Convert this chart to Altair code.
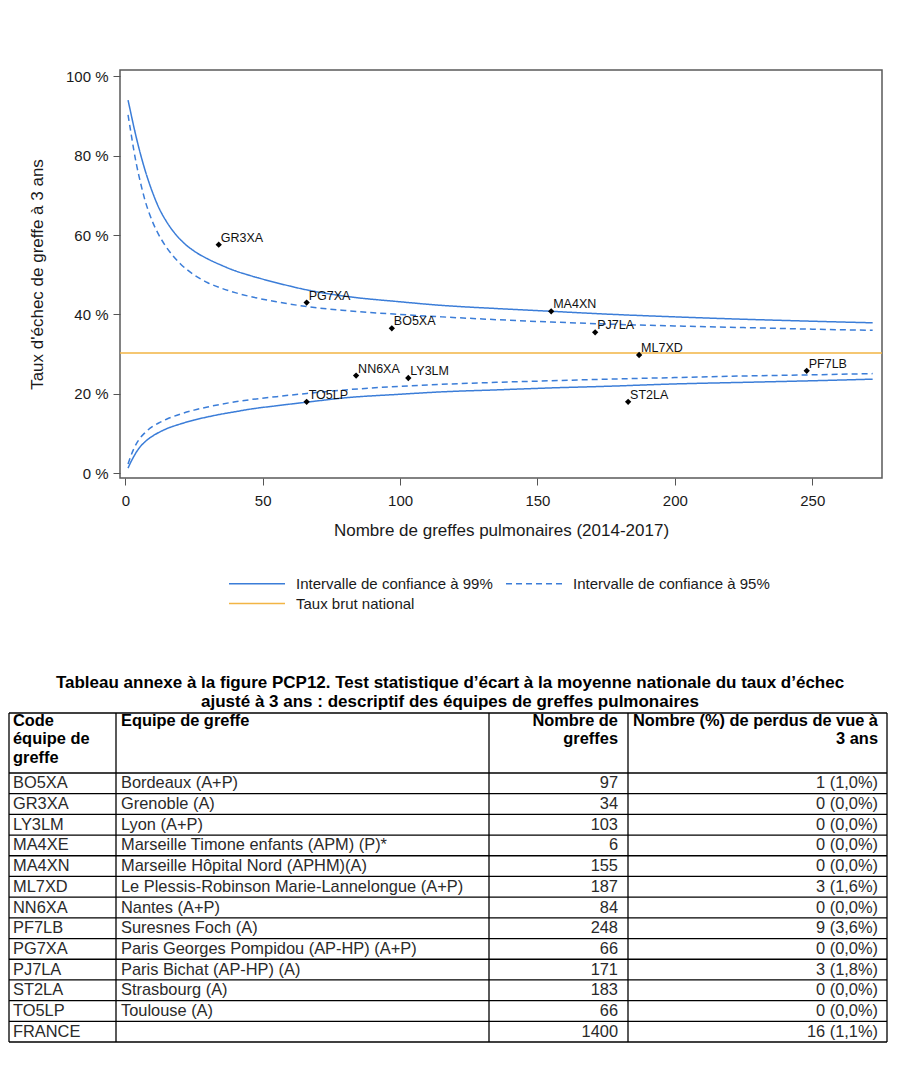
import altair as alt
import pandas as pd

# ---------------- data ----------------
codes = ["BO5XA", "GR3XA", "LY3LM", "MA4XN", "ML7XD", "NN6XA",
         "PF7LB", "PG7XA", "PJ7LA", "ST2LA", "TO5LP"]
n_greffes = [97, 34, 103, 155, 187, 84, 248, 66, 171, 183, 66]
taux = [36.5, 57.6, 24.0, 40.8, 29.8, 24.6, 25.8, 43.0, 35.5, 18.0, 18.0]

national_rate = 30.3

curve_n = [1, 2, 3, 4, 5, 7, 10, 12, 15, 20, 25, 30, 35, 40, 45, 55, 66,
           80, 100, 115, 135, 155, 175, 200, 225, 250, 272]
ic99_haut = [94.0, 90.8, 87.6, 84.6, 81.8, 76.8, 70.6, 67.2, 63.4, 58.9, 56.0,
             54.0, 52.4, 51.0, 49.9, 48.0, 46.2, 44.6, 43.2, 42.3, 41.5, 40.8,
             40.1, 39.4, 38.8, 38.3, 37.9]
ic95_haut = [90.3, 86.0, 81.8, 78.0, 74.8, 69.2, 63.2, 60.3, 56.9, 52.8, 50.0,
             48.0, 46.6, 45.5, 44.6, 43.2, 42.0, 41.0, 40.0, 39.4, 38.7, 38.1,
             37.6, 37.1, 36.7, 36.3, 36.0]
ic99_bas = [1.3, 2.8, 4.1, 5.3, 6.3, 7.8, 9.4, 10.2, 11.2, 12.4, 13.4, 14.2,
            14.9, 15.5, 16.1, 17.0, 17.9, 19.0, 19.9, 20.5, 21.0, 21.5, 21.9,
            22.5, 22.9, 23.3, 23.7]
ic95_bas = [2.3, 4.3, 6.0, 7.4, 8.5, 10.1, 11.8, 12.6, 13.6, 14.9, 15.9, 16.7,
            17.4, 18.0, 18.5, 19.3, 20.1, 21.0, 21.9, 22.4, 22.9, 23.3, 23.7,
            24.1, 24.5, 24.8, 25.1]

LAB99 = "Intervalle de confiance à 99%"
LAB95 = "Intervalle de confiance à 95%"
LABN = "Taux brut national"
series = [LAB99, LAB95, LABN]

x_ticks = [0, 50, 100, 150, 200, 250]
y_ticks = [0, 20, 40, 60, 80, 100]

tab_codes = ["BO5XA", "GR3XA", "LY3LM", "MA4XE", "MA4XN", "ML7XD", "NN6XA",
             "PF7LB", "PG7XA", "PJ7LA", "ST2LA", "TO5LP", "FRANCE"]
tab_equipes = ["Bordeaux (A+P)", "Grenoble (A)", "Lyon (A+P)",
               "Marseille Timone enfants (APM) (P)*",
               "Marseille Hôpital Nord (APHM)(A)",
               "Le Plessis-Robinson Marie-Lannelongue (A+P)",
               "Nantes (A+P)", "Suresnes Foch (A)",
               "Paris Georges Pompidou (AP-HP) (A+P)",
               "Paris Bichat (AP-HP) (A)", "Strasbourg (A)", "Toulouse (A)", ""]
tab_nombre = [97, 34, 103, 6, 155, 187, 84, 248, 66, 171, 183, 66, 1400]
tab_perdus = ["1 (1,0%)", "0 (0,0%)", "0 (0,0%)", "0 (0,0%)", "0 (0,0%)",
              "3 (1,6%)", "0 (0,0%)", "9 (3,6%)", "0 (0,0%)", "3 (1,8%)",
              "0 (0,0%)", "0 (0,0%)", "16 (1,1%)"]
tab_header = ["Code\néquipe de\ngreffe", "Equipe de greffe",
              "Nombre de\ngreffes", "Nombre (%) de perdus de vue à\n3 ans"]
tab_title = ["Tableau annexe à la figure PCP12. Test statistique d’écart à la moyenne nationale du taux d’échec",
             "ajusté à 3 ans : descriptif des équipes de greffes pulmonaires"]

FONT = "Liberation Sans"
BLUE = "#3b7dd8"
ORANGE = "#f2b544"

# ---------------- funnel plot ----------------
rows = []
for lab, cid, vals in [(LAB99, "99h", ic99_haut), (LAB99, "99b", ic99_bas),
                       (LAB95, "95h", ic95_haut), (LAB95, "95b", ic95_bas)]:
    for n, v in zip(curve_n, vals):
        rows.append({"n": n, "v": v, "serie": lab, "courbe": cid})
curves = pd.DataFrame(rows)
nat = pd.DataFrame({"v": [national_rate], "serie": [LABN]})
pts = pd.DataFrame({"code": codes, "n": n_greffes, "v": taux})

xs = alt.Scale(domain=[-1.93, 275.4], nice=False, zero=False)
ys = alt.Scale(domain=[-1.2, 101.6], nice=False, zero=False)
xax = alt.Axis(title="Nombre de greffes pulmonaires (2014-2017)", values=x_ticks,
               tickSize=7, labelPadding=8, titlePadding=14, grid=False, domain=False)
yax = alt.Axis(title="Taux d'échec de greffe à 3 ans", values=y_ticks,
               labelExpr="datum.value + ' %'", tickSize=7, labelPadding=5,
               titlePadding=19, grid=False, domain=False)

cscale = alt.Scale(domain=series, range=[BLUE, BLUE, ORANGE])
dscale = alt.Scale(domain=series, range=[[1, 0], [6, 4], [1, 0]])
leg = alt.Legend(title=None, orient="none", legendX=108, legendY=506, columns=2,
                 direction="horizontal",
                 symbolType="stroke", symbolSize=3136, symbolStrokeWidth=1.5,
                 labelFontSize=15, labelFont=FONT, labelColor="#1a1a1a",
                 labelOffset=10, columnPadding=12, rowPadding=4, clipHeight=15,
                 labelLimit=400)

nat_layer = alt.Chart(nat).mark_rule(strokeWidth=1.5).encode(
    y=alt.Y("v:Q", scale=ys, axis=yax),
    color=alt.Color("serie:N", scale=cscale, legend=leg),
    strokeDash=alt.StrokeDash("serie:N", scale=dscale, legend=leg),
)
line_layer = alt.Chart(curves).mark_line(strokeWidth=1.5, interpolate="monotone").encode(
    x=alt.X("n:Q", scale=xs, axis=xax),
    y=alt.Y("v:Q", scale=ys, axis=yax),
    color=alt.Color("serie:N", scale=cscale, legend=leg),
    strokeDash=alt.StrokeDash("serie:N", scale=dscale, legend=leg),
    detail="courbe:N",
)
pt_layer = alt.Chart(pts).mark_point(shape="diamond", filled=True, size=40,
                                     color="black", opacity=1).encode(
    x=alt.X("n:Q", scale=xs), y=alt.Y("v:Q", scale=ys))
lbl_layer = alt.Chart(pts).mark_text(align="left", baseline="alphabetic", dx=2, dy=-3,
                                     fontSize=12.5, font=FONT, color="#111").encode(
    x=alt.X("n:Q", scale=xs), y=alt.Y("v:Q", scale=ys), text="code:N")

top = alt.layer(nat_layer, line_layer, pt_layer, lbl_layer).properties(width=762, height=408)

# ---------------- table ----------------
sx = alt.Scale(domain=[0, 1, 2, 3, 4], range=[-111, -4, 369, 508, 767])
sy = alt.Scale(domain=[0, 1, 14], range=[0, 60, 329])
nrow = len(tab_codes)

hl = pd.DataFrame({"r": list(range(0, nrow + 2)), "c0": 0, "c1": 4})
vl = pd.DataFrame({"c": [0, 1, 2, 3, 4], "r0": 0, "r1": nrow + 1})

hrules = alt.Chart(hl).mark_rule(color="black", strokeWidth=1.3).encode(
    x=alt.X("c0:Q", scale=sx, axis=None), x2="c1:Q",
    y=alt.Y("r:Q", scale=sy, axis=None))
vrules = alt.Chart(vl).mark_rule(color="black", strokeWidth=1.3).encode(
    x=alt.X("c:Q", scale=sx, axis=None),
    y=alt.Y("r0:Q", scale=sy, axis=None), y2="r1:Q")

TFS = 16.4

def txt(df, align, dx, baseline, dy, bold, color):
    return alt.Chart(df).mark_text(align=align, baseline=baseline, dx=dx, dy=dy,
                                   fontSize=TFS, font=FONT, lineBreak="\n",
                                   lineHeight=18.3,
                                   fontWeight="bold" if bold else "normal",
                                   color=color).encode(
        x=alt.X("c:Q", scale=sx, axis=None),
        y=alt.Y("r:Q", scale=sy, axis=None),
        text="t:N")

body_r = [i + 1.5 for i in range(nrow)]
col_specs = [  # (edge index, align, dx, header, body values)
    (0, "left", 4, tab_header[0], tab_codes),
    (1, "left", 5, tab_header[1], tab_equipes),
    (3, "right", -10, tab_header[2], [str(v) for v in tab_nombre]),
    (4, "right", -9, tab_header[3], tab_perdus),
]
text_layers = []
for c, al, dx, head, vals in col_specs:
    hdf = pd.DataFrame({"c": [c], "r": [0], "t": [head]})
    bdf = pd.DataFrame({"c": [c] * nrow, "r": body_r, "t": vals})
    text_layers.append(txt(hdf, al, dx, "top", 0, True, "black"))
    text_layers.append(txt(bdf, al, dx, "middle", 0, False, "#2a2a2a"))

table = alt.layer(hrules, vrules, *text_layers).properties(
    width=660, height=329,
    title=alt.TitleParams(text=tab_title, anchor="middle", frame="group",
                          fontSize=17, fontWeight="bold", font=FONT,
                          color="black", offset=1, lineHeight=19.5),
    view=alt.ViewBackground(strokeOpacity=0),
)

chart = alt.vconcat(top, table, spacing=134).properties(
    padding={"top": 60, "left": 0, "right": 0, "bottom": 0}
).configure_view(
    stroke="#5a5a5a", strokeWidth=1.5
).configure_axis(
    labelFont=FONT, labelFontSize=15, labelColor="#1a1a1a",
    titleFont=FONT, titleFontSize=17, titleFontWeight="normal", titleColor="#1a1a1a",
    tickColor="#555555", tickWidth=1
)

chart.save("out.html", embed_options={"renderer": "svg", "actions": False})
